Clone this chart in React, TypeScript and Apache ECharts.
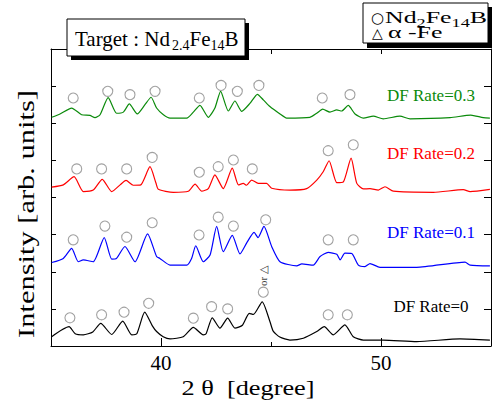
import React, { useEffect, useRef } from 'react';
import * as echarts from 'echarts';

// x tick labels (2θ, degree)
const xTickLabels = [40, 50];
const xMinorTicks = [45];
const seriesLabels = ['DF Rate=0', 'DF Rate=0.1', 'DF Rate=0.2', 'DF Rate=0.3'];
const seriesColors = ['#000000', '#0000ff', '#ff0000', '#0a8a0a'];

// [2θ, intensity (arb., stacked offset)]
const df0 = [
  [35.03, 0.25], [35.82, 0.52], [36.1, 0.33], [36.47, 0.3], [36.9, 0.38], [37.26, 0.61], [37.76, 0.31],
  [38.26, 0.67], [38.67, 0.3], [38.9, 0.33], [39.26, 0.91], [39.6, 0.55], [39.8, 0.39], [40.1, 0.25],
  [40.41, 0.19], [41.01, 0.25], [41.47, 0.5], [41.92, 0.3], [42.05, 0.33], [42.33, 0.76], [42.68, 0.48],
  [43.03, 0.75], [43.36, 0.48], [43.7, 0.56], [44.01, 0.88], [44.2, 0.85], [44.6, 1.19], [44.95, 0.66],
  [45.1, 0.4], [45.4, 0.24], [45.86, 0.16], [46.47, 0.21], [47.08, 0.39], [47.42, 0.52], [47.83, 0.3],
  [48.36, 0.57], [48.74, 0.25], [49.2, 0.16], [50.1, 0.16], [51.62, 0.12], [53.59, 0.19], [54.95, 0.16],
];
const df01 = [
  [35.03, 2.25], [35.56, 2.36], [35.94, 2.63], [36.24, 2.27], [36.47, 2.32], [36.92, 2.27], [37.42, 2.92],
  [37.76, 2.34], [37.98, 2.36], [38.36, 2.68], [38.82, 2.27], [39.39, 3.02], [39.8, 2.41], [39.95, 2.36],
  [40.41, 2.18], [41.17, 2.18], [41.39, 2.36], [41.58, 2.7], [41.92, 2.27], [42.23, 2.45], [42.53, 3.22],
  [42.83, 2.54], [43.24, 2.98], [43.59, 2.48], [43.89, 2.77], [44.23, 3.06], [44.41, 2.92], [44.68, 3.22],
  [45.03, 2.68], [45.41, 2.27], [46.17, 2.16], [46.4, 2.21], [46.92, 2.18], [47.23, 2.41], [47.6, 2.52],
  [47.99, 2.47], [48.14, 2.32], [48.36, 2.5], [48.67, 2.49], [48.97, 2.18], [49.27, 2.14], [49.5, 2.22],
  [49.95, 2.12], [51.62, 2.12], [53.82, 2.26], [54.05, 2.18], [54.95, 2.16],
];
const df02 = [
  [35.03, 4.28], [35.56, 4.34], [36.05, 4.56], [36.47, 4.16], [36.92, 4.2], [37.33, 4.49], [37.76, 4.16],
  [38.14, 4.34], [38.41, 4.46], [38.74, 4.33], [39.08, 4.34], [39.5, 4.83], [39.77, 4.39], [39.88, 4.22],
  [40.56, 4.14], [41.24, 4.17], [41.55, 4.36], [41.85, 4.17], [42.15, 4.24], [42.45, 4.61], [42.83, 4.24],
  [43.24, 4.79], [43.52, 4.34], [43.74, 4.38], [43.89, 4.33], [44.12, 4.47], [44.42, 4.38], [44.8, 4.38],
  [45.03, 4.25], [45.86, 4.2], [46.62, 4.24], [47.08, 4.47], [47.38, 4.7], [47.64, 4.99], [47.99, 4.4],
  [48.29, 4.42], [48.64, 5.06], [48.9, 4.38], [49.2, 4.23], [49.5, 4.24], [49.88, 4.2], [50.18, 4.29],
  [50.56, 4.17], [52.38, 4.14], [53.74, 4.21], [54.05, 4.16], [54.95, 4.22],
];
const df03 = [
  [35.03, 6.16], [35.41, 6.25], [35.94, 6.41], [36.39, 6.23], [36.77, 6.21], [37.0, 6.15], [37.23, 6.23],
  [37.6, 6.69], [37.98, 6.27], [38.29, 6.3], [38.56, 6.52], [38.92, 6.25], [39.27, 6.5], [39.55, 6.7],
  [39.8, 6.41], [40.11, 6.23], [40.41, 6.14], [41.17, 6.14], [41.47, 6.3], [41.77, 6.48], [42.15, 6.16],
  [42.45, 6.41], [42.71, 6.86], [43.06, 6.33], [43.36, 6.6], [43.67, 6.32], [44.05, 6.54], [44.38, 6.78],
  [44.65, 6.63], [44.95, 6.45], [45.41, 6.25], [45.71, 6.14], [46.77, 6.16], [47.08, 6.27], [47.35, 6.38],
  [47.68, 6.3], [47.99, 6.36], [48.21, 6.33], [48.51, 6.48], [48.82, 6.25], [49.2, 6.14], [49.65, 6.19],
  [50.1, 6.12], [50.86, 6.19], [51.32, 6.12], [53.14, 6.15], [54.08, 6.22], [54.65, 6.15], [54.95, 6.14],
];

// Nd2Fe14B peak markers (○)
const peaks0 = [[35.86, 0.76], [37.3, 0.84], [38.32, 0.91], [39.44, 1.15], [41.47, 0.75], [42.3, 1.06], [43.03, 1.0], [44.65, 1.45], [47.6, 0.84], [48.47, 0.84]];
const peaks01 = [[36.01, 2.86], [37.45, 3.23], [38.44, 2.93], [39.6, 3.32], [41.73, 2.99], [42.6, 3.47], [43.29, 3.23], [44.76, 3.4], [47.6, 2.86], [48.74, 2.86]];
const peaks02 = [[36.17, 4.77], [37.3, 4.77], [38.44, 4.77], [39.6, 5.08], [41.74, 4.68], [42.6, 4.83], [43.29, 5.01], [44.15, 4.77], [47.6, 5.26], [48.74, 5.42]];
const peaks03 = [[36.01, 6.68], [37.58, 6.86], [38.59, 6.77], [39.73, 6.86], [41.74, 6.68], [42.73, 7.02], [43.47, 6.86], [44.45, 7.02], [47.33, 6.68], [48.59, 6.77]];

// text pieces: [text, isSubscript]
const targetPieces: [string, boolean][] = [['Target : Nd', false], ['2.4', true], ['Fe', false], ['14', true], ['B', false]];
const phasePieces: [string, boolean][] = [['Nd', false], ['2', true], ['Fe', false], ['14', true], ['B', false]];
const xTitle = '2 θ  [degree]';
const yTitle = 'Intensity [arb. units]';

const SERIF = 'Liberation Serif';

let measureCtx: CanvasRenderingContext2D | null = null;
function textWidth(t: string, size: number, family = SERIF) {
  if (!measureCtx) measureCtx = document.createElement('canvas').getContext('2d');
  if (!measureCtx) return t.length * size * 0.5;
  measureCtx.font = `${size}px "${family}"`;
  return measureCtx.measureText(t).width;
}

function piecesRow(pieces: [string, boolean][], mainSize: number, subSize: number, subDy: number, gapAfter = 0) {
  const out: any[] = [];
  let x = 0;
  pieces.forEach(([t, isSub], i) => {
    const size = isSub ? subSize : mainSize;
    out.push({
      type: 'text',
      x,
      y: isSub ? subDy : 0,
      style: { text: t, fill: '#000', fontFamily: SERIF, fontSize: size, lineHeight: size, align: 'left', textAlign: 'left', verticalAlign: 'middle', textVerticalAlign: 'middle' },
    });
    x += textWidth(t, size) + (i === 0 ? gapAfter : 0);
  });
  return { children: out, width: x };
}

export default function App() {
  const ref = useRef<HTMLDivElement>(null);
  useEffect(() => {
    if (!ref.current) return;
    const chart = echarts.init(ref.current, null, { renderer: 'svg' });
    const curves = [df0, df01, df02, df03];
    const peaks = [peaks0, peaks01, peaks02, peaks03];
    const lineSeries = curves.map((d, i) => ({
      type: 'line',
      name: seriesLabels[i],
      data: d,
      symbol: 'none',
      smooth: 0.2,
      lineStyle: { color: seriesColors[i], width: 1.2 },
      z: 2,
    }));
    const peakSeries = peaks.map((d) => ({
      type: 'scatter',
      data: d,
      symbol: 'circle',
      symbolSize: 10,
      itemStyle: { color: 'rgba(255,255,255,0)', borderColor: '#8a8a8a', borderWidth: 1.1 },
      z: 3,
    }));
    const labelY = [306, 232, 153, 95];
    const tx = (text: string, x: number, y: number, fill: string, extra: any = {}) => ({
      type: 'text',
      x,
      y,
      z: 110,
      ...extra,
      style: {
        text,
        fill,
        fontFamily: SERIF,
        fontSize: 17,
        align: 'center',
        textAlign: 'center',
        verticalAlign: 'middle',
        textVerticalAlign: 'middle',
        ...(extra.style || {}),
      },
    });
    const axisCommon = {
      type: 'value',
      min: 35,
      max: 55,
      interval: 5,
      splitLine: { show: false },
    };

    const target = piecesRow(targetPieces, 21, 14, 6, 2);
    const phase = piecesRow(phasePieces, 17, 12, 4.5);
    const phaseScale = 102 / phase.width;
    const alphaRow = piecesRow([['α -Fe', false]], 17, 12, 4.5);
    const xTitleScale = 133 / textWidth(xTitle, 21);
    const yTitleScale = 248 / textWidth(yTitle, 24);

    chart.setOption({
      animation: false,
      grid: { left: 51, right: 1, top: 49, bottom: 57 },
      xAxis: [
        {
          ...axisCommon,
          position: 'bottom',
          axisLine: { show: true, lineStyle: { color: '#000', width: 1 } },
          axisTick: { show: true, inside: true, length: 8, customValues: xTickLabels, lineStyle: { color: '#000' } },
          axisLabel: {
            customValues: xTickLabels,
            formatter: (v: number) => (xTickLabels.includes(v) ? String(v) : ''),
            fontFamily: SERIF,
            fontSize: 21,
            color: '#000',
            margin: 6,
          },
        },
        {
          ...axisCommon,
          position: 'bottom',
          axisLine: { show: false },
          axisTick: { show: true, inside: true, length: 4, customValues: xMinorTicks, lineStyle: { color: '#000' } },
          axisLabel: { show: false },
        },
        {
          ...axisCommon,
          position: 'top',
          axisLine: { show: true, lineStyle: { color: '#000', width: 1 } },
          axisTick: { show: true, inside: true, length: 5, customValues: [40, 45, 50], lineStyle: { color: '#000' } },
          axisLabel: { show: false },
        },
      ],
      yAxis: [
        {
          type: 'value', min: 0, max: 8, interval: 1, position: 'left',
          axisLine: { show: true, lineStyle: { color: '#000' } },
          axisTick: { show: true, inside: true, length: 5, lineStyle: { color: '#000' } },
          axisLabel: { show: false },
          splitLine: { show: false },
        },
        {
          type: 'value', min: 0, max: 8, interval: 1, position: 'right',
          axisLine: { show: true, lineStyle: { color: '#000' } },
          axisTick: { show: true, inside: true, length: 7, lineStyle: { color: '#000' } },
          axisLabel: { show: false },
          splitLine: { show: false },
        },
      ],
      series: [...lineSeries, ...peakSeries],
      graphic: [
        // DF rate labels
        ...seriesLabels.map((s, i) => tx(s, 431, labelY[i], seriesColors[i])),
        // "or △" annotation
        tx('or △', 263, 276, '#444', { rotation: Math.PI / 2, style: { fontSize: 11 } }),
        // axis titles
        tx(xTitle, 248, 388, '#000', { scaleX: xTitleScale, style: { fontSize: 21 } }),
        tx(yTitle, 26, 214, '#000', { rotation: Math.PI / 2, scaleX: yTitleScale, style: { fontSize: 24 } }),
        // Target box
        { type: 'rect', z: 100, shape: { x: 71, y: 23, width: 178, height: 37 }, style: { fill: '#000' } },
        { type: 'rect', z: 101, shape: { x: 67, y: 19, width: 178, height: 37 }, style: { fill: '#fff', stroke: '#000', lineWidth: 1 } },
        { type: 'group', z: 102, x: 75, y: 39, children: target.children.map((c) => ({ ...c, z: 102 })) },
        // Legend box
        { type: 'rect', z: 100, shape: { x: 367, y: 7, width: 125, height: 41 }, style: { fill: '#000' } },
        { type: 'rect', z: 101, shape: { x: 363, y: 3, width: 125, height: 40 }, style: { fill: '#fff', stroke: '#000', lineWidth: 1 } },
        tx('○', 377.5, 17.5, '#000', { z: 102, style: { fontFamily: 'DejaVu Sans', fontSize: 15, lineHeight: 12 } }),
        tx('△', 377.5, 33, '#000', { z: 102, style: { fontFamily: 'DejaVu Sans', fontSize: 14, lineHeight: 12 } }),
        { type: 'group', z: 102, x: 385, y: 18, scaleX: phaseScale, children: phase.children.map((c) => ({ ...c, z: 102 })) },
        { type: 'group', z: 102, x: 388, y: 33, scaleX: phaseScale, children: alphaRow.children.map((c) => ({ ...c, z: 102 })) },
      ],
    });
    return () => chart.dispose();
  }, []);
  return <div ref={ref} style={{ position: 'absolute', left: 0, top: 0, width: 492, height: 403 }} />;
}
